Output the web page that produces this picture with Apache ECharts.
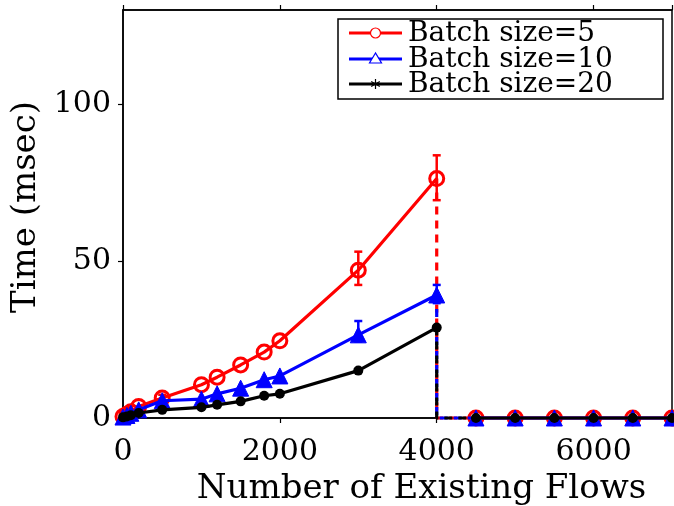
<!DOCTYPE html>
<html>
<head>
<meta charset="utf-8">
<script src="https://cdn.jsdelivr.net/npm/echarts@6/dist/echarts.min.js"></script>
<style>
  html, body { margin: 0; padding: 0; background: #fff; }
  #chart { width: 674px; height: 506px; }
</style>
</head>
<body>
<div id="chart"></div>
<script>
// Number of existing flows (x) for the measured range
const flows = [0, 50, 100, 200, 500, 1000, 1200, 1500, 1800, 2000, 3000, 4000];
// Mean processing time (msec) per batch size
const batch5  = [0.5, 1.2, 2.0, 3.7, 6.4, 10.6, 13.0, 16.9, 21.0, 24.6, 47.1, 76.3];
const batch10 = [0.3, 0.8, 1.5, 2.6, 5.5, 6.0, 7.7, 9.5, 12.2, 13.4, 26.5, 39.2];
const batch20 = [0.2, 0.5, 0.9, 1.6, 2.6, 3.4, 4.2, 5.3, 7.1, 7.7, 15.1, 28.8];

// Beyond 4000 flows the time drops to zero
const tailFlows = [4500, 5000, 5500, 6000, 6500, 7000];
const tail5  = [0, 0, 0, 0, 0, 0];
const tail10 = [0, 0, 0, 0, 0, 0];
const tail20 = [0, 0, 0, 0, 0, 0];

// Error bars: flows, low, high
const err5Flows = [500, 3000, 4000];
const err5Low   = [5.6, 42.4, 69.4];
const err5High  = [7.4, 53.0, 83.7];
const err10Flows = [3000, 4000];
const err10Low   = [24.4, 36.6];
const err10High  = [30.9, 42.4];

const seriesNames = ['Batch size=5', 'Batch size=10', 'Batch size=20'];
const xTicks = { min: 0, max: 7000, interval: 2000 };
const yTicks = { min: 0, max: 130, interval: 50 };

const RED = '#ff0000', BLUE = '#0000ff', BLACK = '#000000';
const FONT = 'DejaVu Serif';

function pairs(xs, ys) { return xs.map((x, i) => [x, ys[i]]); }
function dropPath(xs, ys) {
  const last = xs.length - 1;
  return [[xs[last], ys[last]], [xs[last], 0], [tailFlows[0], 0]];
}
function errData(xs, lo, hi) { return xs.map((x, i) => [x, lo[i], hi[i]]); }

function errorBars(data, color) {
  return {
    type: 'custom',
    data: data,
    z: 3,
    encode: { x: 0, y: [1, 2] },
    renderItem: function (params, api) {
      const x = api.value(0);
      const lo = api.coord([x, api.value(1)]);
      const hi = api.coord([x, api.value(2)]);
      const w = 4;
      const style = { stroke: color, lineWidth: 2.5 };
      return {
        type: 'group',
        children: [
          { type: 'line', shape: { x1: lo[0], y1: lo[1], x2: hi[0], y2: hi[1] }, style },
          { type: 'line', shape: { x1: lo[0] - w, y1: lo[1], x2: lo[0] + w, y2: lo[1] }, style },
          { type: 'line', shape: { x1: hi[0] - w, y1: hi[1], x2: hi[0] + w, y2: hi[1] }, style }
        ]
      };
    }
  };
}

const markers = [
  { symbol: 'circle', symbolSize: 14, itemStyle: { color: 'rgba(0,0,0,0)', borderColor: RED, borderWidth: 3 } },
  { symbol: 'triangle', symbolSize: 16, itemStyle: { color: BLUE, borderColor: BLUE, borderWidth: 1 } },
  { symbol: 'circle', symbolSize: 10, itemStyle: { color: BLACK } }
];
const colors = [RED, BLUE, BLACK];
const mains = [batch5, batch10, batch20];
const tails = [tail5, tail10, tail20];

const series = [];
for (let i = 0; i < 3; i++) {
  series.push({
    name: seriesNames[i], type: 'line', data: pairs(flows, mains[i]),
    lineStyle: { color: colors[i], width: 3.2 }, clip: false, z: 2 + i,
    ...markers[i]
  });
  series.push({
    type: 'line', data: dropPath(flows, mains[i]), symbol: 'none',
    lineStyle: { color: colors[i], width: 3.2, type: [8, 6] }, clip: false, z: 2 + i
  });
  series.push({
    type: 'line', data: pairs(tailFlows, tails[i]),
    lineStyle: { color: colors[i], width: 3.2 }, clip: false, z: 2 + i,
    ...markers[i]
  });
}
series.push(errorBars(errData(err5Flows, err5Low, err5High), RED));
series.push(errorBars(errData(err10Flows, err10Low, err10High), BLUE));

// Legend box drawn with graphic elements
const lgX = 338, lgY = 19, lgW = 325, lgH = 80;
const rowY = [33, 59, 84];
const lx1 = 349, lx2 = 402, lmid = 375.5;
const legend = [
  { type: 'rect', shape: { x: lgX, y: lgY, width: lgW, height: lgH }, style: { fill: '#fff', stroke: '#000', lineWidth: 1.5 }, z: 10 }
];
for (let i = 0; i < 3; i++) {
  legend.push({ type: 'line', shape: { x1: lx1, y1: rowY[i], x2: lx2, y2: rowY[i] }, style: { stroke: colors[i], lineWidth: 3 }, z: 11 });
  legend.push({ type: 'text', x: 408, y: rowY[i] + 1, style: { text: seriesNames[i], font: '28px "' + FONT + '"', fill: '#000', textVerticalAlign: 'middle', verticalAlign: 'middle' }, z: 11 });
}
legend.push({ type: 'circle', shape: { cx: lmid, cy: rowY[0], r: 5 }, style: { fill: '#fff', stroke: RED, lineWidth: 1.2 }, z: 12 });
legend.push({ type: 'polygon', shape: { points: [[lmid, rowY[1] - 6], [lmid - 6, rowY[1] + 4], [lmid + 6, rowY[1] + 4]] }, style: { fill: '#fff', stroke: BLUE, lineWidth: 1.2 }, z: 12 });
[[0, -5, 0, 5], [-4.3, -2.5, 4.3, 2.5], [-4.3, 2.5, 4.3, -2.5]].forEach(s => {
  legend.push({ type: 'line', shape: { x1: lmid + s[0], y1: rowY[2] + s[1], x2: lmid + s[2], y2: rowY[2] + s[3] }, style: { stroke: '#000', lineWidth: 1.2 }, z: 12 });
});

const plain = v => String(v);
const axisText = { color: '#000', fontFamily: FONT, fontSize: 30, formatter: plain };

const option = {
  animation: false,
  backgroundColor: '#fff',
  grid: {
    left: 123, right: 2, top: 10, bottom: 88, show: true, borderColor: '#000', borderWidth: 1.5,
    containLabel: false, outerBoundsMode: 'none'
  },
  xAxis: [
    {
      type: 'value', position: 'bottom', min: xTicks.min, max: xTicks.max, interval: xTicks.interval,
      splitLine: { show: false },
      axisLine: { show: true, lineStyle: { color: '#000', width: 1.5 } },
      axisTick: { show: true, length: 5, lineStyle: { color: '#000', width: 1.2 } },
      axisLabel: { ...axisText, margin: 19, showMaxLabel: false },
      name: 'Number of Existing Flows', nameLocation: 'middle', nameGap: 51,
      nameTextStyle: { color: '#000', fontFamily: FONT, fontSize: 34, padding: [0, 0, 0, 48] }
    },
    {
      type: 'value', position: 'top', min: xTicks.min, max: xTicks.max, interval: xTicks.interval,
      splitLine: { show: false },
      axisLine: { show: true, lineStyle: { color: '#000', width: 1.5 } },
      axisTick: { show: true, length: 5, lineStyle: { color: '#000', width: 1.2 } },
      axisLabel: { show: false }
    }
  ],
  yAxis: {
    type: 'value', min: yTicks.min, max: yTicks.max, interval: yTicks.interval,
    splitLine: { show: false },
    axisLine: { show: true, lineStyle: { color: '#000', width: 1.5 } },
    axisTick: { show: true, length: 5, lineStyle: { color: '#000', width: 1.2 } },
    axisLabel: { ...axisText, margin: 12, showMaxLabel: false },
    name: 'Time (msec)', nameLocation: 'middle', nameGap: 66,
    nameTextStyle: { color: '#000', fontFamily: FONT, fontSize: 34, padding: [0, 0, 0, 14] }
  },
  series: series,
  graphic: legend
};

const chart = echarts.init(document.getElementById('chart'), null, { renderer: 'canvas' });
chart.setOption(option);
</script>
</body>
</html>
